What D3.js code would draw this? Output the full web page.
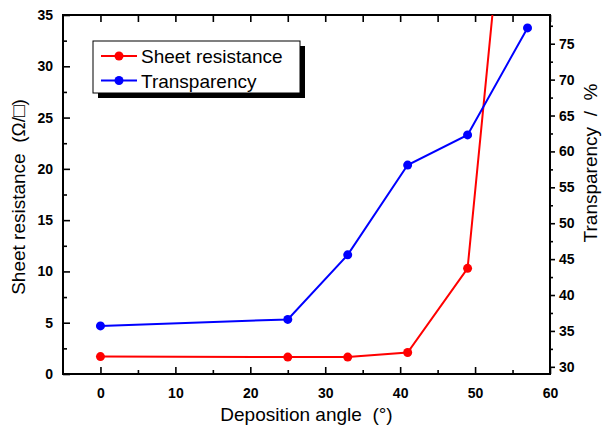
<!DOCTYPE html>
<html>
<head>
<meta charset="utf-8">
<script src="https://cdn.jsdelivr.net/npm/d3@7"></script>
<style>
  body { margin: 0; background: #fff; }
  text { font-family: Arial, "Liberation Sans", sans-serif; }
  .title { white-space: pre; }
</style>
</head>
<body>
<script>
//data
var angles = [0, 25, 33, 41, 49, 57];
var sheetResistance = [1.7, 1.65, 1.65, 2.1, 10.3, 70];
var transparency = [35.7, 36.6, 45.6, 58.1, 62.3, 77.2];
var xTicks = [0, 10, 20, 30, 40, 50, 60];
var leftTicks = [0, 5, 10, 15, 20, 25, 30, 35];
var rightTicks = [30, 35, 40, 45, 50, 55, 60, 65, 70, 75];
var seriesNames = ["Sheet resistance", "Transparency"];
var seriesColors = ["#ff0000", "#0000ff"];

//plot box
var margin = {top: 15, right: 52, bottom: 56, left: 63},
    width = 602 - margin.left - margin.right,
    height = 430 - margin.top - margin.bottom;

//scales
var x = d3.scaleLinear().domain([-5, 60]).range([0, width]);
var yL = d3.scaleLinear().domain([0, 35]).range([height, 0]);
var yR = d3.scaleLinear().domain([29, 79]).range([height, 0]);

var svg = d3.select("body").append("svg")
    .attr("width", 602)
    .attr("height", 430)
    .append("g")
    .attr("transform", "translate(" + margin.left + "," + margin.top + ")");

svg.append("clipPath").attr("id", "clip")
    .append("rect").attr("width", width).attr("height", height);

//minor tick helper
function halves(ticks) {
    var out = [];
    for (var i = 0; i < ticks.length - 1; i++) out.push((ticks[i] + ticks[i + 1]) / 2);
    return out;
}
function styleAxis(g) {
    g.select(".domain").remove();
    g.selectAll("line").attr("stroke", "#000").attr("stroke-width", 1.6);
    g.selectAll("text").style("font-size", "14px").style("font-weight", "bold").attr("fill", "#000");
}

//bottom axis, ticks inward
svg.append("g")
    .attr("transform", "translate(0," + height + ")")
    .call(d3.axisBottom(x).tickValues(xTicks).tickSize(-7).tickPadding(14).tickFormat(d3.format("d")))
    .call(styleAxis);
svg.append("g")
    .attr("transform", "translate(0," + height + ")")
    .call(d3.axisBottom(x).tickValues(halves(xTicks).filter(d => d < 60)).tickSize(-4).tickFormat(""))
    .call(styleAxis);

//top axis, ticks inward
svg.append("g")
    .call(d3.axisTop(x).tickValues(xTicks.concat(halves(xTicks))).tickSize(-7).tickFormat(""))
    .call(styleAxis);

//left axis
svg.append("g")
    .call(d3.axisLeft(yL).tickValues(leftTicks).tickSize(-7).tickPadding(10))
    .call(styleAxis);
svg.append("g")
    .call(d3.axisLeft(yL).tickValues(halves(leftTicks)).tickSize(-4).tickFormat(""))
    .call(styleAxis);

//right axis, ticks outward
svg.append("g")
    .attr("transform", "translate(" + width + ",0)")
    .call(d3.axisRight(yR).tickValues(rightTicks).tickSize(5).tickPadding(4))
    .call(styleAxis);
svg.append("g")
    .attr("transform", "translate(" + width + ",0)")
    .call(d3.axisRight(yR).tickValues(halves(rightTicks).concat([77.5])).tickSize(3).tickFormat(""))
    .call(styleAxis);

//frame
svg.append("rect")
    .attr("width", width)
    .attr("height", height)
    .attr("fill", "none")
    .attr("stroke", "#000")
    .attr("stroke-width", 2);

//series
var sets = [
    {ys: sheetResistance, scale: yL, color: seriesColors[0]},
    {ys: transparency, scale: yR, color: seriesColors[1]}
];
sets.forEach(s => {
    var pts = angles.map((a, i) => [a, s.ys[i]]);
    var g = svg.append("g").attr("clip-path", "url(#clip)");
    g.append("path")
        .datum(pts)
        .attr("fill", "none")
        .attr("stroke", s.color)
        .attr("stroke-width", 2)
        .attr("d", d3.line().x(d => x(d[0])).y(d => s.scale(d[1])));
    g.selectAll("circle")
        .data(pts)
        .enter().append("circle")
        .attr("r", 4.5)
        .attr("cx", d => x(d[0]))
        .attr("cy", d => s.scale(d[1]))
        .attr("fill", s.color);
});

//legend with drop shadow
var legend = svg.append("g").attr("transform", "translate(" + (93 - margin.left) + "," + (41 - margin.top) + ")");
legend.append("rect").attr("x", 5).attr("y", 5).attr("width", 207).attr("height", 52).attr("fill", "#000");
legend.append("rect").attr("width", 207).attr("height", 52).attr("fill", "#fff").attr("stroke", "#000").attr("stroke-width", 1);
seriesNames.forEach((name, i) => {
    var yy = 15 + i * 24.5;
    legend.append("line").attr("x1", 8).attr("x2", 44).attr("y1", yy).attr("y2", yy)
        .attr("stroke", seriesColors[i]).attr("stroke-width", 2);
    legend.append("circle").attr("cx", 26).attr("cy", yy).attr("r", 4.5).attr("fill", seriesColors[i]);
    legend.append("text").attr("x", 48).attr("y", yy + 7)
        .style("font-size", "19px").text(name);
});

//axis titles
svg.append("text")
    .attr("class", "title")
    .attr("x", x(27.5))
    .attr("y", height + 47)
    .attr("text-anchor", "middle")
    .style("font-size", "19px")
    .text("Deposition angle  (°)");
svg.append("text")
    .attr("class", "title")
    .attr("transform", "translate(" + (25 - margin.left) + "," + (197 - margin.top) + ") rotate(-90)")
    .attr("text-anchor", "middle")
    .style("font-size", "19px")
    .text("Sheet resistance  (Ω/□)");
svg.append("text")
    .attr("class", "title")
    .attr("transform", "translate(" + (597 - margin.left) + "," + (163 - margin.top) + ") rotate(-90)")
    .attr("text-anchor", "middle")
    .style("font-size", "19px")
    .text("Transparency  /  %");
</script>
</body>
</html>
